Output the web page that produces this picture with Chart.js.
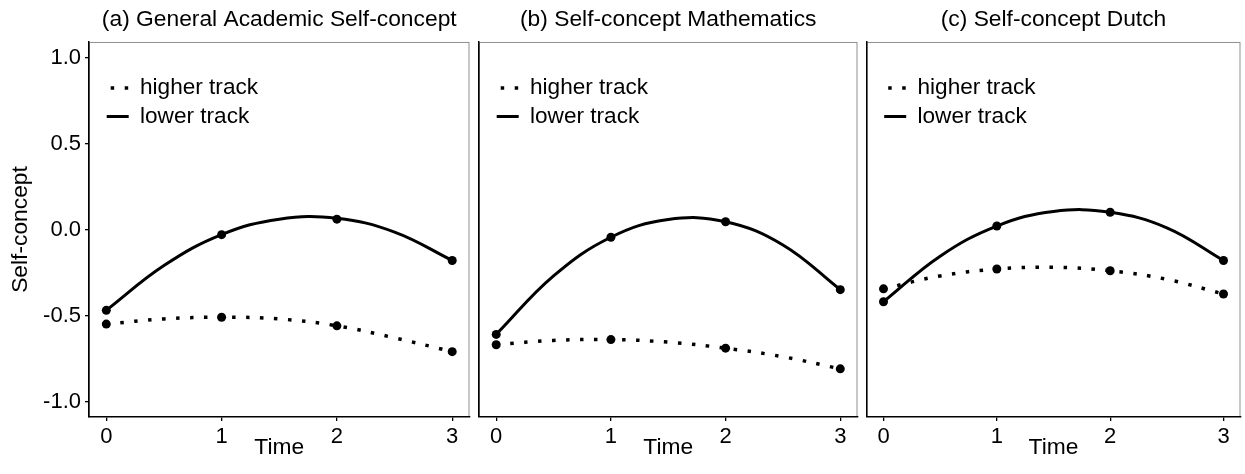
<!DOCTYPE html>
<html><head><meta charset="utf-8">
<script src="https://cdn.jsdelivr.net/npm/chart.js@4.4.1/dist/chart.umd.min.js"></script>
<style>
html,body{margin:0;padding:0;background:#fff;}
#wrap{position:relative;width:1245px;height:474px;overflow:hidden;background:#fff;}
canvas{position:absolute;top:0;}
</style></head><body>
<div id="wrap">
<canvas id="ca" width="474" height="474" style="left:0px"></canvas>
<canvas id="cb" width="388" height="474" style="left:474px"></canvas>
<canvas id="cc" width="383" height="474" style="left:862px"></canvas>
</div>
<script>
// ---- data ----
const times = [0, 1, 2, 3];                       // observed measurement occasions
const curveTimes = [0, 0.5, 1, 1.5, 2, 2.5, 3];   // positions where the drawn trend curves were read
const timeTicks = [0, 1, 2, 3];
const yTickValues = [-1.0, -0.5, 0.0, 0.5, 1.0];
const yTickLabels = ['-1.0', '-0.5', '0.0', '0.5', '1.0'];
const seriesNames = ['higher track', 'lower track'];
const panelTitles = ['(a) General Academic Self-concept', '(b) Self-concept Mathematics', '(c) Self-concept Dutch'];

// observed points
const generalHigher = [-0.55, -0.51, -0.56, -0.71];
const generalLower  = [-0.47, -0.03, 0.06, -0.18];
const mathHigher    = [-0.67, -0.64, -0.69, -0.81];
const mathLower     = [-0.61, -0.045, 0.045, -0.35];
const dutchHigher   = [-0.345, -0.23, -0.24, -0.375];
const dutchLower    = [-0.42, 0.02, 0.10, -0.18];

// trend curves at curveTimes
const generalHigherCurve = [-0.55, -0.52, -0.51, -0.52, -0.56, -0.63, -0.71];
const generalLowerCurve  = [-0.47, -0.21, -0.03, 0.06, 0.065, -0.015, -0.18];
const mathHigherCurve    = [-0.67, -0.645, -0.64, -0.655, -0.69, -0.74, -0.81];
const mathLowerCurve     = [-0.61, -0.27, -0.045, 0.058, 0.045, -0.09, -0.35];
const dutchHigherCurve   = [-0.345, -0.27, -0.23, -0.22, -0.24, -0.29, -0.375];
const dutchLowerCurve    = [-0.42, -0.155, 0.02, 0.105, 0.10, 0.01, -0.18];

Chart.defaults.font.family = "'Liberation Sans', Arial, Helvetica, sans-serif";
Chart.defaults.font.size = 22;
Chart.defaults.color = '#000';

const TICKFONT = {size: 22, weight: 'normal'};
const TEXTFONT = {size: 22.6, weight: 'normal'};
const TITLEFONT = {size: 22.8, weight: 'normal'};

const panelBorder = {
  id: 'panelBorder',
  beforeDraw(chart) {
    const {ctx, chartArea: a} = chart;
    ctx.save();
    ctx.strokeStyle = '#8f8f8f';
    ctx.lineWidth = 1;
    ctx.strokeRect(a.left + 0.5, a.top + 0.5, a.right - a.left - 1, a.bottom - a.top - 1);
    ctx.restore();
  }
};
const legendPlace = {
  id: 'legendPlace',
  afterLayout(chart) {
    const lg = chart.legend;
    if (!lg) return;
    const h = lg.height;
    lg.left = chart.chartArea.left + 11.8;
    lg.right = lg.left + lg.width;
    lg.top = chart.chartArea.top + 28.8;
    lg.bottom = lg.top + h;
  }
};

function makeChart(id, title, higher, lower, higherCurve, lowerCurve, first, pad) {
  const ctx = document.getElementById(id);
  const yScale = first ? {
    type: 'linear', min: -1.09, max: 1.09,
    afterBuildTicks(s) { s.ticks = yTickValues.map(v => ({value: v})); },
    afterFit(s) { s.width = 89; },
    ticks: {padding: 4, font: TICKFONT, color: '#000', callback: (v, i) => yTickLabels[i]},
    grid: {display: true, drawOnChartArea: false, drawTicks: true, tickLength: 4, color: '#000', lineWidth: 1.3},
    border: {display: true, color: '#000', width: 1.5},
    title: {display: true, text: 'Self-concept', font: TITLEFONT, color: '#000', padding: {top: 7, bottom: 0}}
  } : {
    type: 'linear', min: -1.09, max: 1.09,
    afterFit(s) { s.width = 0; },
    ticks: {display: false},
    grid: {display: false},
    border: {display: true, color: '#000', width: 1.5}
  };
  const pointStyle = {
    showLine: false, borderColor: '#000', backgroundColor: '#000',
    pointRadius: 4.5, pointBorderWidth: 0, pointBackgroundColor: '#000'
  };
  return new Chart(ctx, {
    type: 'line',
    data: {
      datasets: [
        Object.assign({label: seriesNames[0], data: times.map((t, i) => ({x: t, y: higher[i]}))}, pointStyle),
        Object.assign({label: seriesNames[1], data: times.map((t, i) => ({x: t, y: lower[i]}))}, pointStyle),
        {
          label: seriesNames[0],
          data: curveTimes.map((t, i) => ({x: t, y: higherCurve[i]})),
          borderColor: '#000', backgroundColor: '#000',
          borderWidth: 3.5, borderDash: [3.5, 10.5],
          tension: 0.4, fill: false, pointRadius: 0, pointHoverRadius: 0
        },
        {
          label: seriesNames[1],
          data: curveTimes.map((t, i) => ({x: t, y: lowerCurve[i]})),
          borderColor: '#000', backgroundColor: '#000',
          borderWidth: 3, tension: 0.4, fill: false, pointRadius: 0, pointHoverRadius: 0
        }
      ]
    },
    options: {
      responsive: false,
      animation: false,
      devicePixelRatio: 1,
      events: [],
      layout: {padding: {left: pad[0], right: pad[1], top: 0, bottom: 0}},
      plugins: {
        title: {display: true, text: title, font: TITLEFONT, color: '#000', padding: {top: 6.5, bottom: 8.1}, fullSize: false},
        legend: {
          display: true, position: 'chartArea', align: 'start',
          labels: {
            usePointStyle: true, pointStyle: 'line', pointStyleWidth: 22,
            font: TEXTFONT, color: '#000', padding: 5.9,
            generateLabels(chart) {
              const items = Chart.defaults.plugins.legend.labels.generateLabels(chart);
              return items.filter(it => it.datasetIndex >= 2).map(it => {
                const ds = chart.data.datasets[it.datasetIndex];
                it.lineWidth = ds.borderWidth;
                it.strokeStyle = ds.borderColor;
                it.fillStyle = ds.borderColor;
                it.lineDash = ds.borderDash || [];
                it.lineDashOffset = ds.borderDash ? -4 : 0;
                it.rotation = 0;
                return it;
              });
            }
          }
        },
        tooltip: {enabled: false}
      },
      scales: {
        x: {
          type: 'linear', min: -0.15, max: 3.15,
          afterBuildTicks(s) { s.ticks = timeTicks.map(v => ({value: v})); },
          afterFit(s) { s.height = 57; },
          ticks: {padding: 3, font: TICKFONT, color: '#000', callback: v => String(v)},
          grid: {display: true, drawOnChartArea: false, drawTicks: true, tickLength: 4, color: '#000', lineWidth: 1.3},
          border: {display: true, color: '#000', width: 1.5},
          title: {display: true, text: 'Time', font: TITLEFONT, color: '#000', padding: {top: 0, bottom: 12.9}}
        },
        y: yScale
      }
    },
    plugins: [panelBorder, legendPlace]
  });
}

makeChart('ca', panelTitles[0], generalHigher, generalLower, generalHigherCurve, generalLowerCurve, true, [0, 4]);
makeChart('cb', panelTitles[1], mathHigher, mathLower, mathHigherCurve, mathLowerCurve, false, [5, 3]);
makeChart('cc', panelTitles[2], dutchHigher, dutchLower, dutchHigherCurve, dutchLowerCurve, false, [3, 2]);
</script>
</body></html>
